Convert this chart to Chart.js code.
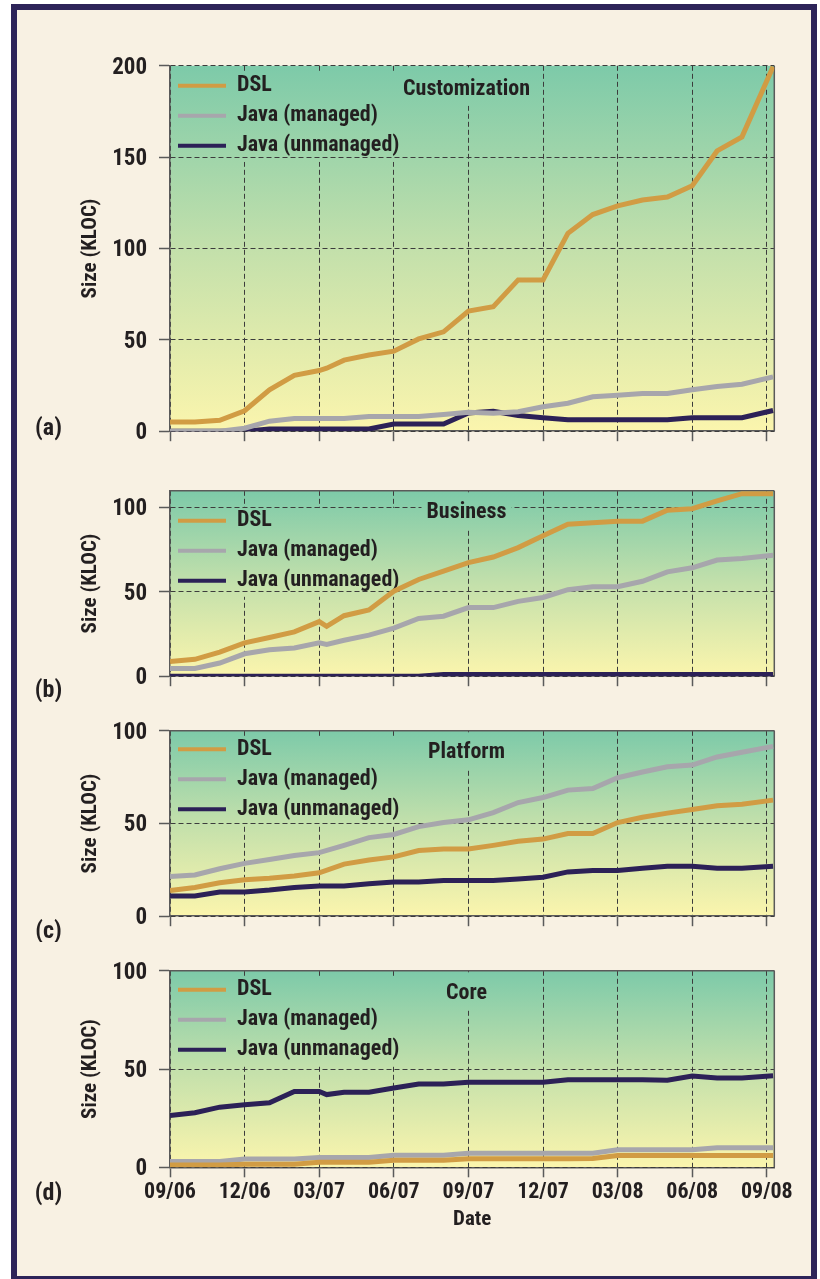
<!DOCTYPE html>
<html>
<head>
<meta charset="utf-8">
<title>Code size by layer</title>
<script src="https://cdn.jsdelivr.net/npm/chart.js@4/dist/chart.umd.min.js"></script>
<style>
  html, body { margin: 0; padding: 0; background: #ffffff; }
  #page { position: relative; width: 820px; height: 1279px; overflow: hidden; background: #ffffff; }
  #frame { position: absolute; left: 11px; top: 4px; width: 794px; height: 1266px;
           border: 6px solid #2d2459; background: #f8f1e3; }
  canvas { position: absolute; left: 0; }
</style>
</head>
<body>
<div id="page">
  <div id="frame"></div>
  <canvas id="panelA"></canvas>
  <canvas id="panelB"></canvas>
  <canvas id="panelC"></canvas>
  <canvas id="panelD"></canvas>
</div>
<script>
// Snapshot dates, in months after September 2006
const months = [0, 1, 2, 3, 4, 5, 6, 6.3, 7, 8, 9, 10, 11, 12, 13, 14, 15, 16, 17, 18, 19, 20, 21, 22, 23, 24.25];
const tickLabels = ['09/06', '12/06', '03/07', '06/07', '09/07', '12/07', '03/08', '06/08', '09/08'];
const seriesNames = ['DSL', 'Java (managed)', 'Java (unmanaged)'];

// (a) Customization layer, KLOC
const customDSL       = [5.1, 5.1, 6.0, 11.2, 22.7, 30.6, 33.2, 34.5, 38.9, 41.7, 43.8, 50.5, 54.4, 65.8, 68.1, 82.8, 82.8, 108.3, 118.6, 123.3, 126.5, 128.2, 134.4, 153.4, 161.1, 199.5];
const customManaged   = [0, 0, 0, 1.6, 5.5, 6.9, 6.9, null, 6.9, 8.1, 8.1, 8.1, 9.1, 10.4, 9.8, 10.7, 13.4, 15.3, 18.8, 19.7, 20.6, 20.6, 22.7, 24.5, 25.7, 29.7];
const customUnmanaged = [0, 0, 0, 0, 1.2, 1.2, 1.2, null, 1.2, 1.2, 3.9, 3.9, 3.9, 10.0, 10.9, 8.6, 7.4, 6.3, 6.3, 6.3, 6.3, 6.3, 7.4, 7.4, 7.4, 11.3];

// (b) Business layer, KLOC
const bizDSL       = [8.7, 10.0, 14.3, 19.8, 23.0, 26.3, 32.4, 29.6, 35.9, 39.3, 50.4, 57.4, 62.4, 67.4, 70.7, 76.3, 83.3, 90.2, 91.1, 92.0, 92.0, 98.5, 99.4, 104.0, 108.3, 108.3];
const bizManaged   = [4.6, 4.6, 7.8, 13.3, 15.7, 16.7, 19.8, 18.9, 21.3, 24.4, 28.5, 34.3, 35.6, 40.7, 40.7, 44.4, 46.7, 51.3, 53.1, 53.1, 56.3, 61.9, 64.3, 68.9, 69.8, 71.7];
const bizUnmanaged = [0, 0, 0, 0, 0, 0, 0, null, 0, 0, 0, 0, 1, 1, 1, 1, 1, 1, 1, 1, 1, 1, 1, 1, 1, 1];

// (c) Platform layer, KLOC
const platDSL       = [13.8, 15.5, 18.0, 19.7, 20.5, 21.7, 23.4, null, 28.1, 30.3, 32.0, 35.4, 36.2, 36.2, 38.2, 40.4, 41.6, 44.6, 44.6, 50.5, 53.4, 55.6, 57.6, 59.6, 60.4, 62.6];
const platManaged   = [21.4, 22.2, 25.6, 28.5, 30.6, 32.7, 34.3, null, 38.2, 42.4, 44.1, 48.3, 50.5, 52.0, 55.9, 61.3, 64.0, 68.0, 68.9, 74.7, 77.8, 80.6, 81.5, 85.9, 88.4, 91.6];
const platUnmanaged = [10.9, 10.9, 13.0, 13.0, 14.1, 15.5, 16.3, null, 16.3, 17.5, 18.4, 18.4, 19.2, 19.2, 19.2, 20.0, 21.0, 23.9, 24.7, 24.7, 25.9, 26.9, 26.9, 25.9, 25.9, 26.9];

// (d) Core layer, KLOC
const coreDSL       = [1.2, 1.2, 1.2, 1.6, 1.6, 1.6, 2.6, null, 2.6, 2.6, 3.6, 3.6, 3.6, 4.4, 4.4, 4.4, 4.4, 4.4, 4.5, 6.0, 6.0, 6.0, 6.0, 6.0, 6.0, 6.0];
const coreManaged   = [2.9, 2.9, 2.9, 4.2, 4.2, 4.2, 5.0, null, 5.0, 5.0, 6.1, 6.1, 6.1, 7.1, 7.1, 7.1, 7.1, 7.1, 7.1, 8.9, 8.9, 8.9, 8.9, 10.0, 10.0, 10.0];
const coreUnmanaged = [26.4, 27.8, 30.6, 31.8, 32.8, 38.6, 38.6, 37.0, 38.2, 38.2, 40.4, 42.4, 42.4, 43.3, 43.3, 43.3, 43.3, 44.5, 44.5, 44.5, 44.5, 44.3, 46.4, 45.5, 45.5, 46.6];

const FONT = "'Roboto Condensed', 'Open Sans Condensed', 'DejaVu Sans Condensed', sans-serif";
const TEXT = '#231f20';
const GRID = '#3c3c3c';
const AXIS = '#5a5a5a';
const LINE_COLORS = ['#d19c44', '#a7a6ac', '#2c2157'];
const PLOT_LEFT = 170, PLOT_RIGHT = 774.3, AXIS_LEFT = 78.4;

Chart.defaults.font.family = FONT;
Chart.defaults.font.weight = 'bold';
Chart.defaults.color = TEXT;

function plotGradient(chart) {
  const { ctx, chartArea: a } = chart;
  const g = ctx.createLinearGradient(0, a.top, 0, a.bottom);
  g.addColorStop(0, '#7dcaa9');
  g.addColorStop(0.5, '#c3e0ab');
  g.addColorStop(1, '#fbf5ad');
  return g;
}

// Gradient plot background, an opaque patch behind the legend and the panel
// name, a frame on the open sides of the plot and the panel tag.
const panelDecor = {
  id: 'panelDecor',
  afterInit(chart) {
    const legend = chart.legend;
    if (!legend || legend.$decorated) return;
    const baseDraw = legend.draw.bind(legend);
    legend.draw = function (area) {
      const o = chart.options.plugins.panelDecor;
      const ctx = chart.ctx;
      const a = chart.chartArea;
      const boxes = legend.legendHitBoxes || [];
      let shift = 0;
      if (boxes.length) {
        shift = (a.top + o.legendTop) - boxes[0].top;
        let right = 0, top = Infinity, bottom = -Infinity;
        boxes.forEach(b => {
          right = Math.max(right, b.left + b.width);
          top = Math.min(top, b.top);
          bottom = Math.max(bottom, b.top + b.height);
        });
        ctx.save();
        ctx.fillStyle = plotGradient(chart);
        ctx.fillRect(a.left + 1, top + shift - 2, right + 4 - a.left, bottom - top + 7);
        ctx.restore();
      }
      ctx.save();
      ctx.translate(0, shift);
      baseDraw(area);
      ctx.restore();
    };
    legend.$decorated = true;
  },
  beforeDraw(chart) {
    const { ctx, chartArea: a } = chart;
    ctx.save();
    ctx.fillStyle = plotGradient(chart);
    ctx.fillRect(a.left, a.top, a.right - a.left, a.bottom - a.top);
    ctx.restore();
  },
  beforeDatasetsDraw(chart, args, o) {
    const { ctx, chartArea: a } = chart;
    ctx.save();
    ctx.font = `bold ${o.nameSize}px ${FONT}`;
    const w = ctx.measureText(o.name).width;
    const cy = a.top + o.nameDy;
    ctx.fillStyle = plotGradient(chart);
    ctx.fillRect(o.nameX - w / 2 - 5, a.top + 1.5, w + 10, cy + 15 - a.top);
    ctx.fillStyle = TEXT;
    ctx.textAlign = 'center';
    ctx.textBaseline = 'middle';
    ctx.fillText(o.name, o.nameX, cy);
    ctx.strokeStyle = AXIS;
    ctx.lineWidth = 1.5;
    ctx.beginPath();
    if (o.frameTop) {
      ctx.moveTo(a.left, a.top);
      ctx.lineTo(a.right, a.top);
    }
    ctx.moveTo(a.right, a.top);
    ctx.lineTo(a.right, a.bottom);
    ctx.stroke();
    ctx.restore();
  },
  afterDraw(chart, args, o) {
    const ctx = chart.ctx;
    ctx.save();
    ctx.font = `bold 24px ${FONT}`;
    ctx.fillStyle = TEXT;
    ctx.textAlign = 'center';
    ctx.textBaseline = 'middle';
    ctx.fillText(o.tag, 48.5, o.tagY - o.canvasTop);
    ctx.restore();
  }
};

const panels = [
  { id: 'panelA', name: 'Customization', tag: '(a)', values: [customDSL, customManaged, customUnmanaged],
    yMax: 200, plotTop: 64.3, plotBottom: 442.5, tagY: 429, nameDy: 23.2, legendTop: 9, frameTop: false, showDates: false },
  { id: 'panelB', name: 'Business', tag: '(b)', values: [bizDSL, bizManaged, bizUnmanaged],
    yMax: 110, plotTop: 489.3, plotBottom: 687.3, tagY: 691, nameDy: 21.2, legendTop: 19, frameTop: true, showDates: false },
  { id: 'panelC', name: 'Platform', tag: '(c)', values: [platDSL, platManaged, platUnmanaged],
    yMax: 100, plotTop: 729.3, plotBottom: 927.3, tagY: 932, nameDy: 21.7, legendTop: 7.4, frameTop: true, showDates: false },
  { id: 'panelD', name: 'Core', tag: '(d)', values: [coreDSL, coreManaged, coreUnmanaged],
    yMax: 100, plotTop: 969.3, plotBottom: 1167.3, tagY: 1194, nameDy: 22.7, legendTop: 8, frameTop: true, showDates: true }
];

panels.forEach(p => {
  const canvasTop = Math.floor(p.plotTop - 24);
  const axisH = p.showDates ? 65.3 : 12;
  const H = Math.ceil(p.plotBottom - canvasTop + axisH + 2);
  const canvas = document.getElementById(p.id);
  canvas.width = 820;
  canvas.height = H;
  canvas.style.top = canvasTop + 'px';
  canvas.style.width = '820px';
  canvas.style.height = H + 'px';

  new Chart(canvas, {
    type: 'line',
    data: {
      datasets: seriesNames.map((name, i) => ({
        label: name,
        data: months.map((m, k) => ({ x: m, y: p.values[i][k] })),
        borderColor: LINE_COLORS[i],
        backgroundColor: LINE_COLORS[i],
        borderWidth: 5,
        pointRadius: 0,
        fill: false,
        tension: 0,
        spanGaps: true
      }))
    },
    options: {
      responsive: false,
      animation: false,
      devicePixelRatio: 1,
      events: [],
      layout: {
        padding: {
          left: AXIS_LEFT,
          right: 820 - PLOT_RIGHT,
          top: p.plotTop - canvasTop,
          bottom: H - (p.plotBottom - canvasTop) - axisH
        }
      },
      scales: {
        x: {
          type: 'linear',
          min: 0,
          max: 24.3,
          afterFit: s => { s.height = axisH; },
          grid: { color: GRID, lineWidth: 1, z: -1, drawTicks: true, tickLength: 10, tickColor: AXIS, tickWidth: 1.5 },
          border: { color: AXIS, width: 1.5, dash: [5, 3] },
          ticks: {
            display: p.showDates, stepSize: 3, includeBounds: false, autoSkip: false,
            maxRotation: 0, minRotation: 0, padding: 2, color: TEXT,
            font: { size: 22, weight: 'bold' },
            callback: v => tickLabels[Math.round(v / 3)]
          },
          title: { display: p.showDates, text: 'Date', color: TEXT, font: { size: 21, weight: 'bold' }, padding: 0 }
        },
        y: {
          min: 0,
          max: p.yMax,
          afterFit: s => { s.width = PLOT_LEFT - AXIS_LEFT; },
          grid: { color: GRID, lineWidth: 1, z: 0, drawTicks: true, tickLength: 11, tickColor: AXIS, tickWidth: 1.5 },
          border: { color: AXIS, width: 1.5, dash: [5, 3] },
          ticks: { stepSize: 50, includeBounds: false, padding: 12, labelOffset: 2, color: TEXT, font: { size: 23, weight: 'bold' } },
          title: { display: true, text: 'Size (KLOC)', color: TEXT, font: { size: 21, weight: 'bold' }, padding: 0 }
        }
      },
      plugins: {
        tooltip: { enabled: false },
        legend: {
          display: true,
          position: 'chartArea',
          align: 'start',
          labels: {
            color: TEXT,
            font: { size: 22, weight: 'bold' },
            boxWidth: 48,
            boxHeight: 4,
            padding: 8,
            generateLabels(chart) {
              return Chart.defaults.plugins.legend.labels.generateLabels(chart)
                .map(item => Object.assign(item, { fillStyle: item.strokeStyle, lineWidth: 0 }));
            }
          }
        },
        panelDecor: {
          name: p.name, nameX: 466.5, nameDy: p.nameDy, nameSize: 22,
          legendTop: p.legendTop, frameTop: p.frameTop,
          tag: p.tag, tagY: p.tagY, canvasTop: canvasTop
        }
      }
    },
    plugins: [panelDecor]
  });
});
</script>
</body>
</html>
